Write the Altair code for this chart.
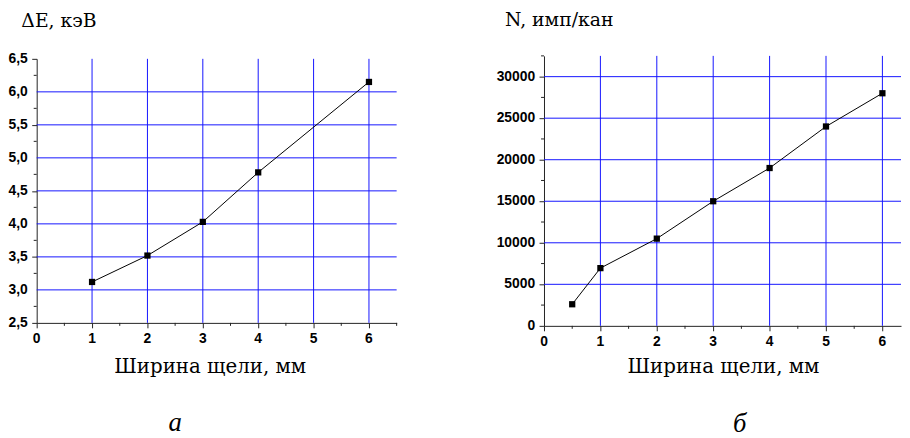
import altair as alt
import pandas as pd

# ---- data ----
left_x = [1, 2, 3, 4, 6]
left_y = [3.12, 3.52, 4.03, 4.78, 6.15]

right_x = [0.5, 1, 2, 3, 4, 5, 6]
right_y = [2600, 6950, 10500, 15000, 19000, 24000, 28000]

left_xgrid = [1, 2, 3, 4, 5, 6]
left_ygrid = [3.0, 3.5, 4.0, 4.5, 5.0, 5.5, 6.0]
left_xmajor = [0, 1, 2, 3, 4, 5, 6]
left_xminor = [0.5, 1.5, 2.5, 3.5, 4.5, 5.5, 6.5]
left_ymajor = [2.5, 3.0, 3.5, 4.0, 4.5, 5.0, 5.5, 6.0, 6.5]
left_yminor = [2.75, 3.25, 3.75, 4.25, 4.75, 5.25, 5.75, 6.25]

right_xgrid = [1, 2, 3, 4, 5, 6]
right_ygrid = [5000, 10000, 15000, 20000, 25000, 30000]
right_xmajor = [0, 1, 2, 3, 4, 5, 6]
right_xminor = [0.5, 1.5, 2.5, 3.5, 4.5, 5.5]
right_ymajor = [0, 5000, 10000, 15000, 20000, 25000, 30000]
right_yminor = [2500, 7500, 12500, 17500, 22500, 27500, 32500]

BLUE = "#1414ff"
LBL_FONT = "Liberation Sans"
SERIF = "DejaVu Serif"
TICK = "#222222"


def panel(xs, ys, xgrid, ygrid, xmaj, xmin, ymaj, ymin, xdom, ydom, yrange,
          w, h, yfmt, ytitle, ytx, yty, xtx, xty, letter, lx, ly):
    df = pd.DataFrame({"x": xs, "y": ys})
    xsc = alt.Scale(domain=xdom, nice=False, zero=False)
    ysc = alt.Scale(domain=ydom, nice=False, zero=False, range=yrange)

    gx = alt.Chart(pd.DataFrame({"x": xgrid})).mark_rule(color=BLUE, strokeWidth=1).encode(
        x=alt.X("x:Q"),
        y=alt.Y(datum=ydom[1]),
        y2=alt.Y2(datum=ydom[0]),
    )
    gy = alt.Chart(pd.DataFrame({"y": ygrid})).mark_rule(color=BLUE, strokeWidth=1).encode(
        y=alt.Y("y:Q"),
    )
    # minor ticks (outside, below x axis / left of y axis)
    mx = alt.Chart(pd.DataFrame({"x": xmin})).mark_rule(color=TICK, strokeWidth=1).encode(
        x=alt.X("x:Q"),
        y=alt.value(h), y2=alt.value(h + 3),
    )
    my = alt.Chart(pd.DataFrame({"y": ymin})).mark_rule(color=TICK, strokeWidth=1).encode(
        y=alt.Y("y:Q"),
        x=alt.value(-3), x2=alt.value(0),
    )
    # tick labels
    xl = alt.Chart(pd.DataFrame({"x": xmaj, "t": [str(v) for v in xmaj]})).mark_text(
        font=LBL_FONT, fontWeight="bold", fontSize=14, color="black",
        align="center", baseline="top",
    ).encode(x=alt.X("x:Q"), y=alt.value(h + 9), text="t:N")
    yl = alt.Chart(pd.DataFrame({"y": ymaj, "t": [yfmt(v) for v in ymaj]})).mark_text(
        font=LBL_FONT, fontWeight="bold", fontSize=14, color="black",
        align="right", baseline="middle",
    ).encode(y=alt.Y("y:Q"), x=alt.value(-9), text="t:N")

    line = alt.Chart(df).mark_line(color="black", strokeWidth=1).encode(
        x=alt.X("x:Q", scale=xsc, axis=alt.Axis(
            orient="bottom", values=xmaj, labels=False, grid=False, tickSize=5,
            domainColor=TICK, tickColor=TICK,
            title="Ширина щели, мм", titleFont=SERIF, titleFontSize=20,
            titleFontWeight="normal", titleColor="black", titleX=xtx, titleY=xty,
            titleAlign="center", titleBaseline="alphabetic")),
        y=alt.Y("y:Q", scale=ysc, axis=alt.Axis(
            orient="left", values=ymaj, labels=False, grid=False, tickSize=5,
            domainColor=TICK, tickColor=TICK,
            title=ytitle, titleFont=SERIF, titleFontSize=19, titleFontWeight="normal",
            titleColor="black", titleAngle=0, titleX=ytx, titleY=yty,
            titleAlign="left", titleBaseline="alphabetic")),
    )
    pts = alt.Chart(df).mark_square(color="black", size=40, opacity=1).encode(
        x=alt.X("x:Q"),
        y=alt.Y("y:Q"),
    )
    lab = alt.Chart(pd.DataFrame({"t": [letter]})).mark_text(
        font="Liberation Serif", fontStyle="italic", fontSize=27, color="black",
        align="center", baseline="alphabetic",
    ).encode(x=alt.value(lx), y=alt.value(ly), text="t:N")

    return alt.layer(gx, gy, mx, my, line, pts, xl, yl, lab).properties(width=w, height=h)


left = panel(left_x, left_y, left_xgrid, left_ygrid, left_xmajor, left_xminor,
             left_ymajor, left_yminor, [0, 6.5], [2.5, 6.5], [270, 3], 364, 270,
             lambda v: f"{v:.1f}".replace(".", ","), "ΔE,  кэВ", -16, -30,
             175, 50, "а", 140, 379)

right = panel(right_x, right_y, right_xgrid, right_ygrid, right_xmajor, right_xminor,
              right_ymajor, right_yminor, [0, 6.33], [0, 32500], [273, 0], 361, 273,
              lambda v: f"{int(v)}", "N, имп/кан", -40, -31,
              181, 47, "б", 198, 380)

chart = (
    alt.hconcat(left, right, spacing=149, bounds="flush")
    .properties(padding=0)
    .configure_view(strokeWidth=0)
)

chart.save("out.html", embed_options={"renderer": "svg", "actions": False})
